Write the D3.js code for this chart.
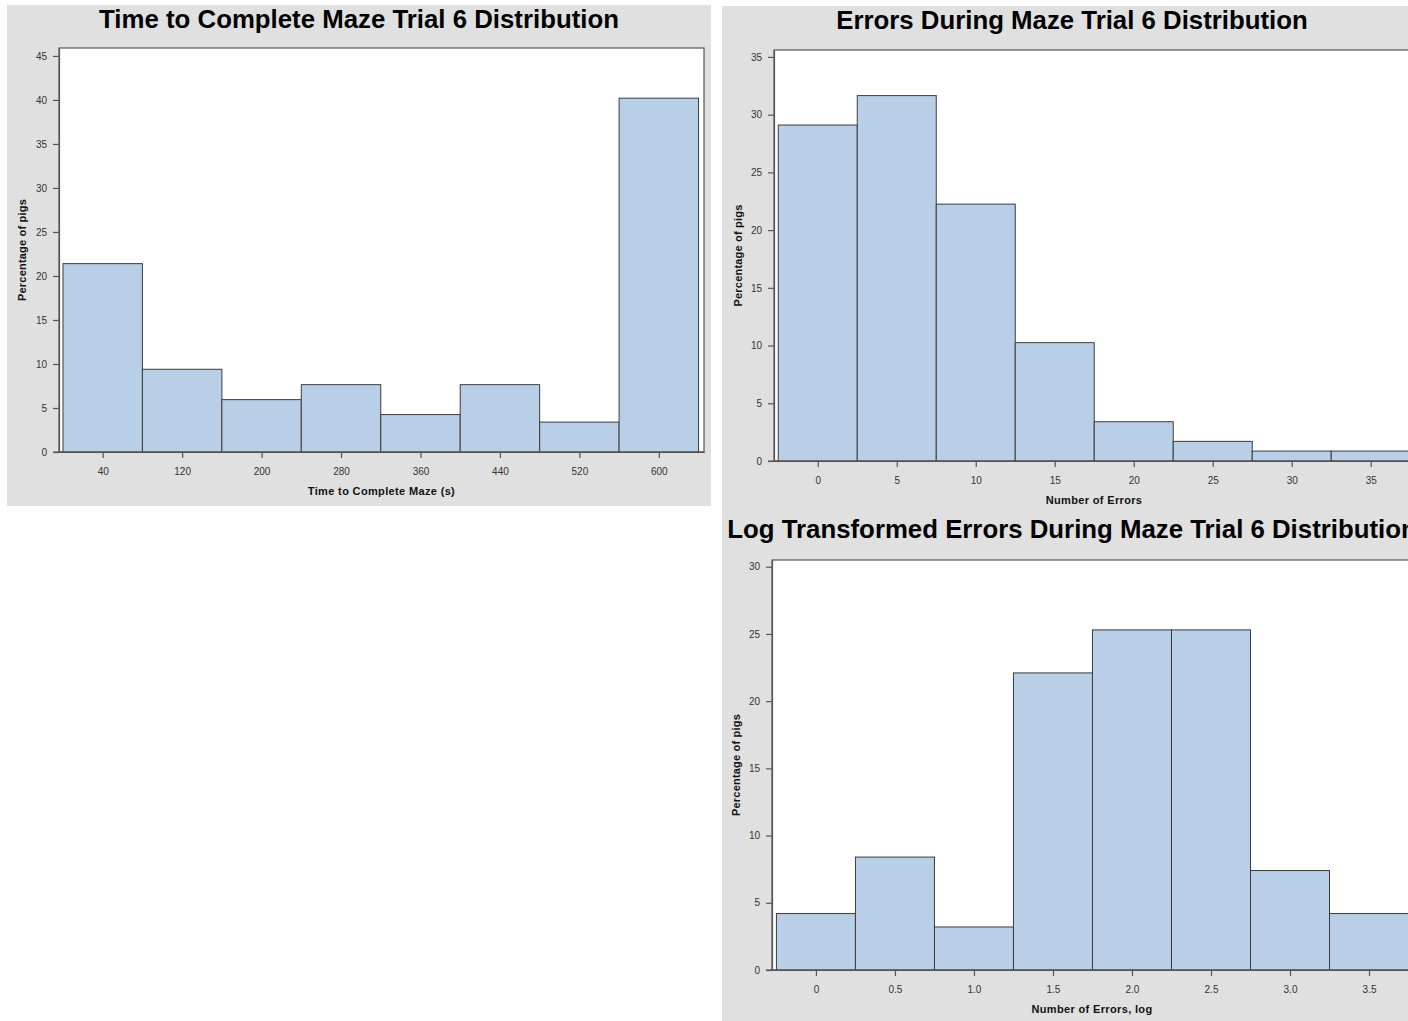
<!DOCTYPE html>
<html>
<head>
<meta charset="utf-8">
<script src="https://cdn.jsdelivr.net/npm/d3@7"></script>
<style>
  html, body { margin: 0; padding: 0; background: #ffffff; }
  svg { display: block; }
  text { font-family: "Liberation Sans", Arial, sans-serif; }
</style>
</head>
<body>
<div id="chart"></div>
<script>
// ---------- DATA ----------
const timeMidpoints = [40, 120, 200, 280, 360, 440, 520, 600];
const timePercent   = [21.4, 9.4, 5.95, 7.65, 4.25, 7.65, 3.4, 40.2];
const timeYTicks    = [0, 5, 10, 15, 20, 25, 30, 35, 40, 45];
const timeXLabels   = ["40", "120", "200", "280", "360", "440", "520", "600"];

const errorMidpoints = [0, 5, 10, 15, 20, 25, 30, 35];
const errorPercent   = [29.1, 31.65, 22.25, 10.25, 3.4, 1.7, 0.86, 0.86];
const errorYTicks    = [0, 5, 10, 15, 20, 25, 30, 35];
const errorXLabels   = ["0", "5", "10", "15", "20", "25", "30", "35"];

const logMidpoints = [0, 0.5, 1.0, 1.5, 2.0, 2.5, 3.0, 3.5];
const logPercent   = [4.2, 8.4, 3.2, 22.1, 25.3, 25.3, 7.4, 4.2];
const logYTicks    = [0, 5, 10, 15, 20, 25, 30];
const logXLabels   = ["0", "0.5", "1.0", "1.5", "2.0", "2.5", "3.0", "3.5"];

const titles  = ["Time to Complete Maze Trial 6 Distribution",
                 "Errors During Maze Trial 6 Distribution",
                 "Log Transformed Errors During Maze Trial 6 Distribution"];
const xTitles = ["Time to Complete Maze (s)", "Number of Errors", "Number of Errors, log"];
const yTitle  = "Percentage of pigs";

// ---------- STYLE / LAYOUT ----------
const W = 1408, H = 1021;
const BG = "#e0e0e0", BAR = "#b9cfe7", BAR_STROKE = "#3c3c3c", AXIS = "#555555", TICK_TXT = "#333333";

const panels = [
  { mids: timeMidpoints, vals: timePercent, bin: 80, yTicks: timeYTicks, xLabels: timeXLabels,
    title: titles[0], xTitle: xTitles[0],
    bg: [7, 5, 704, 501], frame: [59, 704, 48, 452], xDom: [-4, 645.5], yDom: [0, 45.9],
    titleX: 359, titleY: 28, yLabX: 22 },
  { mids: errorMidpoints, vals: errorPercent, bin: 5, yTicks: errorYTicks, xLabels: errorXLabels,
    title: titles[1], xTitle: xTitles[1],
    bg: [722, 6, 700, 507], frame: [774, 1414, 50, 461], xDom: [-2.77, 37.74], yDom: [0, 35.6],
    titleX: 1072, titleY: 29, yLabX: 738 },
  { mids: logMidpoints, vals: logPercent, bin: 0.5, yTicks: logYTicks, xLabels: logXLabels,
    title: titles[2], xTitle: xTitles[2],
    bg: [722, 513, 700, 520], frame: [772, 1412, 560, 970], xDom: [-0.278, 3.772], yDom: [0, 30.5],
    titleX: 1072, titleY: 538, yLabX: 736 }
];

const svg = d3.select("#chart").append("svg")
  .attr("width", W).attr("height", H)
  .attr("viewBox", `0 0 ${W} ${H}`);

svg.append("rect").attr("width", W).attr("height", H).attr("fill", "#ffffff");

panels.forEach(p => {
  const [fx0, fx1, fy0, fy1] = p.frame;
  const x = d3.scaleLinear().domain(p.xDom).range([fx0, fx1]);
  const y = d3.scaleLinear().domain(p.yDom).range([fy1, fy0]);
  const g = svg.append("g");

  // panel background
  g.append("rect")
    .attr("x", p.bg[0]).attr("y", p.bg[1]).attr("width", p.bg[2]).attr("height", p.bg[3])
    .attr("fill", BG);

  // title
  g.append("text")
    .attr("x", p.titleX).attr("y", p.titleY)
    .attr("text-anchor", "middle")
    .attr("font-size", 25.8).attr("font-weight", "bold").attr("fill", "#000")
    .text(p.title);

  // plot frame
  g.append("rect")
    .attr("x", fx0).attr("y", fy0).attr("width", fx1 - fx0).attr("height", fy1 - fy0)
    .attr("fill", "#ffffff").attr("stroke", AXIS).attr("stroke-width", 1.2);

  // bars
  g.append("g").selectAll("rect")
    .data(p.mids.map((m, i) => ({ m, v: p.vals[i] })))
    .join("rect")
    .attr("x", d => x(d.m - p.bin / 2))
    .attr("width", d => x(d.m + p.bin / 2) - x(d.m - p.bin / 2))
    .attr("y", d => y(d.v))
    .attr("height", d => y(0) - y(d.v))
    .attr("fill", BAR)
    .attr("stroke", BAR_STROKE)
    .attr("stroke-width", 1);

  // y axis
  const ya = g.append("g")
    .attr("transform", `translate(${fx0},0)`)
    .call(d3.axisLeft(y).tickValues(p.yTicks).tickSize(6).tickPadding(6).tickSizeOuter(0));
  // x axis
  const xa = g.append("g")
    .attr("transform", `translate(0,${fy1})`)
    .call(d3.axisBottom(x).tickValues(p.mids).tickSize(6).tickPadding(10).tickSizeOuter(0)
      .tickFormat((d, i) => p.xLabels[i]));

  [ya, xa].forEach(a => {
    a.select(".domain").attr("stroke", AXIS).attr("stroke-width", 1.2);
    a.selectAll(".tick line").attr("stroke", AXIS).attr("stroke-width", 1.2);
    a.selectAll(".tick text")
      .attr("fill", TICK_TXT)
      .attr("font-size", 10)
      .attr("font-family", "'Liberation Sans', Arial, sans-serif");
  });
  // extend baseline to the left under the 0-tick
  g.append("line")
    .attr("x1", fx0 - 6).attr("x2", fx1)
    .attr("y1", fy1).attr("y2", fy1)
    .attr("stroke", AXIS).attr("stroke-width", 1.2);

  // x axis title
  g.append("text")
    .attr("x", (fx0 + fx1) / 2).attr("y", fy1 + 43)
    .attr("text-anchor", "middle")
    .attr("font-size", 11).attr("font-weight", "bold").attr("fill", "#111")
    .attr("letter-spacing", 0.35)
    .text(p.xTitle);

  // y axis title
  g.append("text")
    .attr("transform", `translate(${p.yLabX + 4},${(fy0 + fy1) / 2}) rotate(-90)`)
    .attr("text-anchor", "middle")
    .attr("font-size", 11).attr("font-weight", "bold").attr("fill", "#111")
    .attr("letter-spacing", 0.2)
    .text(yTitle);
});
</script>
</body>
</html>
